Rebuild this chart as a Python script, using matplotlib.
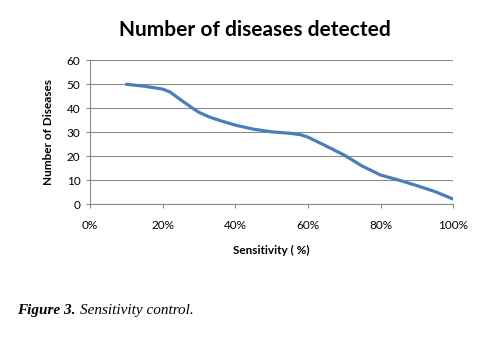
import numpy as np
import matplotlib
matplotlib.use("Agg")
import matplotlib.pyplot as plt
from matplotlib.ticker import PercentFormatter

# sensitivity (%) and number of diseases
sensitivity = [10, 15, 20, 22, 25, 28, 30, 33, 36, 40, 45, 50, 55, 58, 60, 65, 70, 75, 80, 85, 90, 95, 100]
diseases = [50, 49.2, 48, 46.8, 43.5, 40.3, 38.3, 36.3, 34.8, 33, 31.3, 30.2, 29.6, 29.0, 28, 24.3, 20.5, 15.9, 12.2, 10.1, 7.8, 5.3, 2.2]

xticks = [0, 20, 40, 60, 80, 100]
yticks = [0, 10, 20, 30, 40, 50, 60]

plt.rcParams['font.family'] = ['Lato', 'DejaVu Sans']

fig = plt.figure(figsize=(4.79, 3.42), dpi=100)
ax = fig.add_axes([0.188, 0.4026, 0.758, 0.4211])

ax.plot(sensitivity, diseases, color='#4a7ebb', lw=2.3, solid_capstyle='round',
        solid_joinstyle='round')

ax.set_xlim(0, 100)
ax.set_ylim(0, 60)
ax.set_xticks(xticks)
ax.set_yticks(yticks)
ax.xaxis.set_major_formatter(PercentFormatter(decimals=0))
ax.grid(axis='y', color='#8c8c8c', lw=0.8)
ax.set_axisbelow(True)
for s in ['top', 'right']:
    ax.spines[s].set_visible(False)
for s in ['left', 'bottom']:
    ax.spines[s].set_color('#8c8c8c')
    ax.spines[s].set_linewidth(0.8)
ax.tick_params(axis='both', colors='#8c8c8c', labelcolor='black', labelsize=8.5, length=3, width=0.8)
ax.tick_params(axis='x', pad=8)
ax.tick_params(axis='y', pad=4)

ax.set_xlabel('Sensitivity ( %)', fontsize=8.5, fontweight='bold', labelpad=10)
ax.set_ylabel('Number of Diseases', fontsize=8.5, fontweight='bold', labelpad=9)

fig.text(0.5315, 0.912, 'Number of diseases detected', ha='center', va='center',
         fontsize=15, fontweight='bold')

cap1 = fig.text(0.036, 0.093, 'Figure 3.', family='Liberation Serif', style='italic',
                fontweight='bold', fontsize=11, va='center')
fig.canvas.draw()
bb = cap1.get_window_extent()
fig.text(bb.x1 / fig.bbox.width + 0.008, 0.093, 'Sensitivity control.', family='Liberation Serif',
         style='italic', fontsize=11, va='center')

fig.savefig('out.png', dpi=100)
